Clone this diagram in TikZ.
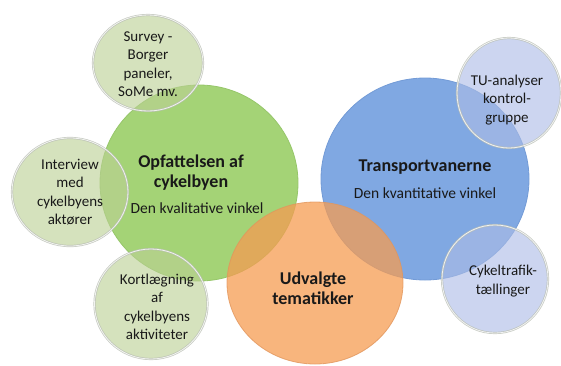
\documentclass[tikz,border=0pt]{standalone}
\usepackage{fontspec}
\setmainfont{Carlito}
\usetikzlibrary{shapes.geometric}
\definecolor{bigGreen}{RGB}{164,211,118}
\definecolor{bigGreenLine}{RGB}{150,198,106}
\definecolor{bigBlue}{RGB}{128,168,226}
\definecolor{bigBlueLine}{RGB}{115,155,214}
\definecolor{bigOrange}{RGB}{245,156,82}
\definecolor{bigOrangeLine}{RGB}{226,150,92}
\definecolor{smGreen}{RGB}{187,208,148}
\definecolor{smBlue}{RGB}{172,188,230}
\definecolor{rim}{RGB}{185,190,180}
\definecolor{txt}{RGB}{25,25,25}
\tikzset{
  bubble/.style={ellipse, inner sep=0pt, outer sep=0pt},
  bigtitle/.style={font=\bfseries\fontsize{18}{20}\selectfont, align=center, inner sep=0pt, text=txt},
  subtitle/.style={font=\fontsize{15.5}{18}\selectfont, align=center, inner sep=0pt, text=txt},
  smalltext/.style={font=\fontsize{15}{18.5}\selectfont, align=center, inner sep=0pt, text=txt},
  smallgreen/.style={bubble, fill=smGreen, fill opacity=0.62, draw=rim, draw opacity=0.8, line width=0.7pt,
    double=white, double distance=0.8pt},
  smallblue/.style={bubble, fill=smBlue, fill opacity=0.62, draw=rim, draw opacity=0.8, line width=0.7pt,
    double=white, double distance=0.8pt}
}
\begin{document}
\begin{tikzpicture}[x=1pt,y=-1pt]
\useasboundingbox (0,0) rectangle (561,365);
% big circles
\node[bubble, fill=bigGreen, draw=bigGreenLine, line width=0.8pt, minimum width=198pt, minimum height=196pt] (green) at (199,183) {};
\node[bubble, fill=bigBlue, draw=bigBlueLine, line width=0.8pt, minimum width=208pt, minimum height=202pt] (blue) at (425,179) {};
\node[bubble, fill=bigOrange, fill opacity=0.75, draw=bigOrangeLine, draw opacity=0.8, line width=0.8pt, minimum width=176pt, minimum height=162pt] (orange) at (315,283) {};
% small circles
\node[smallgreen, minimum width=110pt, minimum height=96pt] (survey) at (148,63) {};
\node[smallgreen, minimum width=116pt, minimum height=108pt] (interview) at (70,192) {};
\node[smallgreen, minimum width=113pt, minimum height=110pt] (kort) at (151,304) {};
\node[smallblue, minimum width=104pt, minimum height=110pt] (tu) at (509,93) {};
\node[smallblue, minimum width=106pt, minimum height=108pt] (cyk) at (495,279) {};
% texts
\node[bigtitle] (gT) at (191,173) {Opfattelsen af\\cykelbyen};
\node[subtitle] (gS) at (197,208) {Den kvalitative vinkel};
\node[bigtitle] (bT) at (425,167) {Transportvanerne};
\node[subtitle] (bS) at (425,193) {Den kvantitative vinkel};
\node[bigtitle] (oT) at (313,288) {Udvalgte\\tematikker};
\node[smalltext] (sT) at (148,64) {Survey -\\Borger\\paneler,\\SoMe mv.};
\node[smalltext] (iT) at (70,192) {Interview\\med\\cykelbyens\\aktører};
\node[smalltext] (kT) at (157,307) {Kortlægning\\af\\cykelbyens\\aktiviteter};
\node[smalltext] (tT) at (507,100) {TU-analyser\\kontrol-\\gruppe};
\node[smalltext] (cT) at (503,281) {Cykeltrafik-\\tællinger};
\end{tikzpicture}
\end{document}
